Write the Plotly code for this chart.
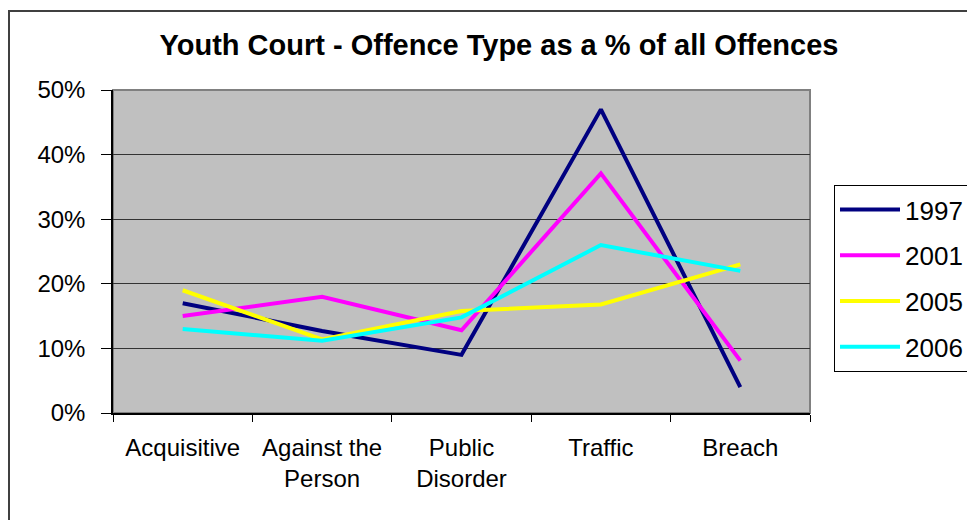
import plotly.graph_objects as go

categories = ["Acquisitive", "Against the<br>Person", "Public<br>Disorder", "Traffic", "Breach"]
years = ["1997", "2001", "2005", "2006"]
v1997 = [17, 12.7, 9, 47, 4]
v2001 = [15, 18, 12.8, 37.1, 8.1]
v2005 = [19, 11.4, 15.8, 16.8, 23]
v2006 = [13, 11.2, 14.8, 26, 22]
colors = ["#000080", "#FF00FF", "#FFFF00", "#00FFFF"]
series = [v1997, v2001, v2005, v2006]

fig = go.Figure()
for i, (name, vals) in enumerate(zip(years, series)):
    fig.add_trace(go.Scatter(
        x=categories, y=vals, name=name, mode="lines",
        line=dict(color=colors[i], width=4),
        legendgroup=name,
    ))

W, H = 967, 520
L, R, T, B = 113, 810, 90, 413
pw, ph = R - L, B - T

def px(x):
    return (x - L) / pw

def py(y):
    return (B - y) / ph

fig.update_layout(
    width=W, height=H,
    margin=dict(l=L, r=W - R, t=T, b=H - B),
    paper_bgcolor="white",
    plot_bgcolor="#C0C0C0",
    font=dict(family="Liberation Sans, Arial, sans-serif", color="black", size=24),
    title=dict(text="<b>Youth Court - Offence Type as a % of all Offences</b>",
               x=499 / W, xanchor="center", y=1 - 45 / H, yanchor="middle",
               font=dict(size=29, family="Liberation Sans, Arial, sans-serif")),
    showlegend=True,
    legend=dict(xref="container", yref="container",
                x=834 / W, xanchor="left", y=1 - 185 / H, yanchor="top",
                bordercolor="black", borderwidth=1, bgcolor="white",
                font=dict(size=26), traceorder="grouped", tracegroupgap=9,
                itemwidth=60),
    xaxis=dict(range=[-0.5, 4.5], showgrid=False, showline=True, linecolor="black",
               linewidth=1.5, ticks="outside", tickson="boundaries", ticklen=7,
               tickcolor="black", ticklabelstandoff=12, fixedrange=True),
    yaxis=dict(range=[0, 50], dtick=10, ticksuffix="%", showgrid=True,
               gridcolor="#333333", gridwidth=1, showline=True, linecolor="black",
               linewidth=1.5, ticks="outside", ticklen=10, tickcolor="black",
               ticklabelstandoff=11, zeroline=False, fixedrange=True),
    shapes=[
        dict(type="rect", xref="paper", yref="paper", x0=0, x1=1, y0=0, y1=1,
             line=dict(color="#808080", width=2), layer="below"),
        dict(type="rect", xref="paper", yref="paper", x0=px(9), x1=px(1000),
             y0=py(560), y1=py(11), line=dict(color="#404040", width=2)),
    ],
)

fig.write_html(
    "out.html",
    config={"displayModeBar": False},
    post_script="document.body.style.margin='0';document.body.style.overflow='hidden';",
)
